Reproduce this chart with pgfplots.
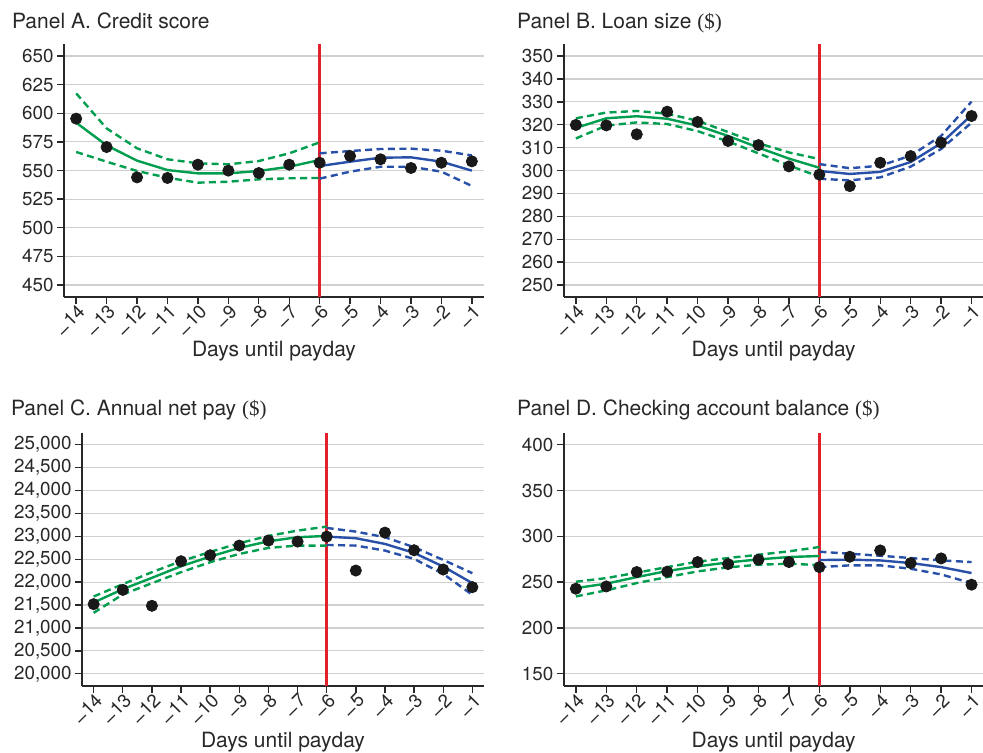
\documentclass[border=0pt]{standalone}
\usepackage{pgfplots}
\pgfplotsset{compat=1.18}
\usepackage{pgfplotstable}
\usepackage{fontspec}
\setmainfont{TeX Gyre Heros}
\newfontfamily\serifpart{Liberation Serif}

\definecolor{fitgreen}{RGB}{0,158,78}
\definecolor{fitblue}{RGB}{40,80,168}
\definecolor{cutred}{RGB}{224,32,42}
\definecolor{axisgray}{RGB}{40,40,40}
\definecolor{gridgray}{RGB}{208,208,208}
\definecolor{dotblack}{RGB}{25,25,25}

\newcommand{\tickfont}{\fontsize{9.4}{11}\selectfont}
\newcommand{\labfont}{\fontsize{10.5}{12.5}\selectfont}
% low en dash used as the minus sign of the day labels
\newcommand{\md}{\raisebox{-0.3ex}{–}\kern0.08em}

% columns: day, bin mean, green fit/upper/lower, blue fit/upper/lower
\pgfplotstableread{
x   pt    gf    gu    gl    bf    bu    bl
-14 595.3 591.8 617.4 566.2 nan   nan   nan
-13 570.5 572.0 586.8 557.7 nan   nan   nan
-12 544.0 558.6 569.4 549.6 nan   nan   nan
-11 543.5 550.4 559.8 543.7 nan   nan   nan
-10 555.1 547.5 556.3 539.4 nan   nan   nan
-9  549.9 547.5 555.4 540.2 nan   nan   nan
-8  547.8 549.6 558.3 542.3 nan   nan   nan
-7  555.1 553.3 565.0 543.2 nan   nan   nan
-6  556.8 559.2 574.6 543.5 553.9 565.0 542.9
-5  562.7 nan   nan   nan   557.7 567.0 549.0
-4  559.8 nan   nan   nan   561.2 568.8 553.3
-3  552.2 nan   nan   nan   561.5 569.1 553.3
-2  556.8 nan   nan   nan   557.7 567.3 549.0
-1  558.0 nan   nan   nan   549.9 563.2 536.5
}\credit

\pgfplotstableread{
x   pt    gf    gu    gl    bf    bu    bl
-14 319.9 318.6 322.8 314.0 nan   nan   nan
-13 319.7 322.8 325.3 319.6 nan   nan   nan
-12 315.8 323.7 326.0 321.0 nan   nan   nan
-11 325.7 322.6 324.8 320.3 nan   nan   nan
-10 321.2 319.6 321.7 317.2 nan   nan   nan
-9  312.9 315.1 316.8 312.7 nan   nan   nan
-8  311.1 310.0 311.9 307.5 nan   nan   nan
-7  301.8 305.2 307.9 302.2 nan   nan   nan
-6  298.2 301.2 305.0 297.3 299.8 302.8 296.4
-5  293.2 nan   nan   nan   298.5 301.0 295.7
-4  303.4 nan   nan   nan   299.4 302.1 297.0
-3  306.3 nan   nan   nan   303.7 306.5 301.7
-2  312.2 nan   nan   nan   311.9 315.1 309.4
-1  323.8 nan   nan   nan   324.2 330.1 320.9
}\loan

\pgfplotstableread{
x   pt    gf    gu    gl    bf    bu    bl
-14 21519 21555 21686 21330 nan   nan   nan
-13 21831 21846 21955 21730 nan   nan   nan
-12 21483 22093 22217 21977 nan   nan   nan
-11 22456 22347 22456 22217 nan   nan   nan
-10 22587 22558 22660 22435 nan   nan   nan
-9  22798 22747 22849 22616 nan   nan   nan
-8  22907 22892 23009 22747 nan   nan   nan
-7  22885 22980 23125 22798 nan   nan   nan
-6  22994 23009 23212 22798 22994 23183 22812
-5  22253 nan   nan   nan   22958 23103 22798
-4  23081 nan   nan   nan   22834 22980 22689
-3  22696 nan   nan   nan   22638 22762 22507
-2  22275 nan   nan   nan   22340 22485 22180
-1  21890 nan   nan   nan   21977 22195 21722
}\netpay

\pgfplotstableread{
x   pt    gf    gu    gl    bf    bu    bl
-14 242.8 243.5 250.4 234.4 nan   nan   nan
-13 245.3 248.3 254.4 241.0 nan   nan   nan
-12 261.0 255.5 260.3 249.0 nan   nan   nan
-11 261.4 262.1 266.4 255.5 nan   nan   nan
-10 271.9 267.2 272.3 261.7 nan   nan   nan
-9  269.7 271.5 276.3 266.1 nan   nan   nan
-8  274.5 274.8 279.9 269.0 nan   nan   nan
-7  271.9 277.4 283.6 270.1 nan   nan   nan
-6  266.4 278.5 288.3 268.6 274.1 283.2 266.4
-5  277.7 nan   nan   nan   274.5 281.0 268.3
-4  284.6 nan   nan   nan   273.7 278.8 268.3
-3  270.8 nan   nan   nan   270.8 276.3 264.6
-2  275.9 nan   nan   nan   266.4 273.7 258.4
-1  247.2 nan   nan   nan   259.9 271.9 248.9
}\balance

\pgfplotsset{
  panel/.style={
    scale only axis, height=126.5pt,
    xmin=-14.4, xmax=-0.6,
    xtick={-14,...,-1},
    xticklabels={\md14,\md13,\md12,\md11,\md10,\md9,\md8,\md7,\md6,\md5,\md4,\md3,\md2,\md1},
    axis x line*=bottom, axis y line*=left,
    axis line style={axisgray, line width=0.8pt},
    tick align=outside, major tick length=3.5pt,
    major tick style={axisgray, line width=0.7pt},
    ymajorgrids, grid style={gridgray, line width=0.6pt},
    tick label style={font=\tickfont, text=axisgray},
    xticklabel style={rotate=45, anchor=east, inner sep=1pt, xshift=1.5pt, yshift=-4pt},
    yticklabel style={inner sep=1.5pt},
    /pgf/number format/assume math mode=true,
    scaled y ticks=false,
    yticklabel={\pgfmathprintnumber[fixed, precision=0, 1000 sep={,}]{\tick}},
    xlabel={Days until payday},
    xlabel style={font=\labfont, text=axisgray, at={(axis description cs:0.5,0)},
      anchor=base, yshift=-29.5pt},
    clip=false,
  },
  fitg/.style={fitgreen, line width=1.2pt},
  fitgd/.style={fitgreen, line width=1.2pt, dash pattern=on 3.5pt off 2.2pt},
  fitb/.style={fitblue, line width=1.2pt},
  fitbd/.style={fitblue, line width=1.2pt, dash pattern=on 3.5pt off 2.2pt},
  cut/.style={cutred, line width=1.4pt},
  dots/.style={only marks, mark=*, mark size=2.8pt, mark options={fill=dotblack, draw=dotblack}},
}

% one panel: table, red-line y extent
\newcommand{\drawpanel}[3]{%
  \addplot[cut] coordinates {(-6,#2) (-6,#3)};
  \addplot[fitgd] table[x=x, y=gu] {#1};
  \addplot[fitgd] table[x=x, y=gl] {#1};
  \addplot[fitg]  table[x=x, y=gf] {#1};
  \addplot[fitbd] table[x=x, y=bu] {#1};
  \addplot[fitbd] table[x=x, y=bl] {#1};
  \addplot[fitb]  table[x=x, y=bf] {#1};
  \addplot[dots]  table[x=x, y=pt] {#1};
}

\begin{document}
\begin{tikzpicture}
\useasboundingbox (0,0) rectangle (491.5pt,-376pt);

% Panel A
\begin{axis}[panel, at={(32pt,-148.5pt)}, anchor=south west, width=210pt,
  ymin=439.5, ymax=660.5, ytick={450,475,...,650}]
  \drawpanel{\credit}{439.5}{660.5}
\end{axis}

% Panel B
\begin{axis}[panel, at={(281.85pt,-148.5pt)}, anchor=south west, width=210pt,
  ymin=244.76, ymax=355.24, ytick={250,260,...,350}]
  \drawpanel{\loan}{244.76}{355.24}
\end{axis}

% Panel C
\begin{axis}[panel, at={(41pt,-342.85pt)}, anchor=south west, width=201pt,
  ymin=19738, ymax=25262, ytick={20000,20500,...,25000},
  xlabel style={yshift=-1.5pt}]
  \drawpanel{\netpay}{19738}{25262}
\end{axis}

% Panel D
\begin{axis}[panel, at={(281.85pt,-342.85pt)}, anchor=south west, width=210pt,
  ymin=136.9, ymax=413.1, ytick={150,200,...,400},
  xlabel style={yshift=-1.5pt}]
  \drawpanel{\balance}{136.9}{413.1}
\end{axis}

% panel headings
\node[anchor=base west, font=\labfont, text=axisgray, inner sep=0pt] at (5.85pt,-14.2pt)
  {Panel A. Credit score};
\node[anchor=base west, font=\labfont, text=axisgray, inner sep=0pt] at (258.35pt,-14.2pt)
  {Panel B. Loan size {\serifpart(\$)}};
\node[anchor=base west, font=\labfont, text=axisgray, inner sep=0pt] at (5.35pt,-207.5pt)
  {Panel C. Annual net pay {\serifpart(\$)}};
\node[anchor=base west, font=\labfont, text=axisgray, inner sep=0pt] at (258.35pt,-207.5pt)
  {Panel D. Checking account balance {\serifpart(\$)}};
\end{tikzpicture}
\end{document}
